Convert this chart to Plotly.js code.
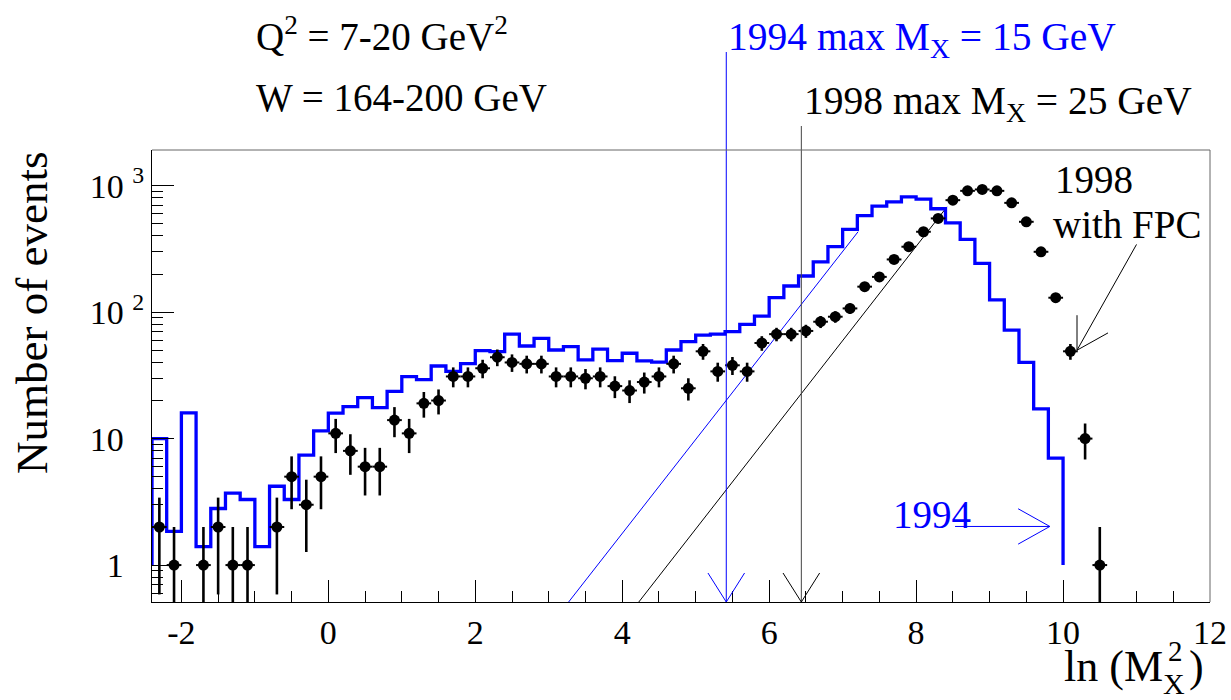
<!DOCTYPE html>
<html><head><meta charset="utf-8">
<script src="https://cdn.plot.ly/plotly-3.0.1.min.js"></script>
<style>html,body{margin:0;padding:0;background:#fff}</style>
</head><body><div id="chart" style="width:1231px;height:700px"></div>
<script>
// ---- DATA ----
// 1994 histogram (bin edges and contents, ln(M_X^2) bins of 0.2)
const hist1994Edges = [-2.4,-2.2,-2.0,-1.8,-1.6,-1.4,-1.2,-1.0,-0.8,-0.6,-0.4,-0.2,0.0,0.2,0.4,0.6,0.8,1.0,1.2,1.4,1.6,1.8,2.0,2.2,2.4,2.6,2.8,3.0,3.2,3.4,3.6,3.8,4.0,4.2,4.4,4.6,4.8,5.0,5.2,5.4,5.6,5.8,6.0,6.2,6.4,6.6,6.8,7.0,7.2,7.4,7.6,7.8,8.0,8.2,8.4,8.6,8.8,9.0,9.2,9.4,9.6,9.8,10.0];
const hist1994Counts = [10,1.85,16,1.4,2.8,3.7,3.3,1.4,4.2,3.3,7.4,11.5,15.9,17.9,21.1,17.6,23.6,30.9,29.3,37.5,34,39.2,49.7,48.7,67,54,62,50.2,53.3,41.9,50.9,41.3,47.3,41.1,40.3,50.2,58.4,65.9,67.1,70,80,93,130,161,193,250,329,451,580,690,745,816,782,657,508,376,243,125,72,40,17.2,7.0];
const hist1994Base = 1;
// 1998 data with FPC (bin centres, events)
const data1998X = [-2.3,-2.1,-1.7,-1.5,-1.3,-1.1,-0.7,-0.5,-0.3,-0.1,0.1,0.3,0.5,0.7,0.9,1.1,1.3,1.5,1.7,1.9,2.1,2.3,2.5,2.7,2.9,3.1,3.3,3.5,3.7,3.9,4.1,4.3,4.5,4.7,4.9,5.1,5.3,5.5,5.7,5.9,6.1,6.3,6.5,6.7,6.9,7.1,7.3,7.5,7.7,7.9,8.1,8.3,8.5,8.7,8.9,9.1,9.3,9.5,9.7,9.9,10.1,10.3,10.5];
const data1998Y = [2,1,1,2,1,1,2,5,3,5,11,8,6,6,14,11,19,20,31,31,36,44,40,39,39,31,31,30,31,26,24,28,31,39,25,49,34,38,34,57,67,67,71,84,92,107,159,190,261,329,432,551,768,910,933,910,731,518,300,130,49,10,1];
const binHalfWidth = 0.1;
// max M_X cuts (GeV) -> vertical lines at ln(M_X^2)
const maxMX1994 = 15, maxMX1998 = 25;
// acceptance lines (x, events)
const limit1994X = [3.27, 7.21], limit1994Y = [0.51, 432];
const limit1998X = [4.225, 8.42], limit1998Y = [0.51, 680];
// axis ticks
const xTickVals = [-2,0,2,4,6,8,10,12];
const xTickText = ['-2','0','2','4','6','8','10','12'];
const yTickVals = [1,10,100,1000];
const yTickText = ['1<span style="color:#fff"> <sup>0</sup></span>','10<span style="color:#fff"> <sup>0</sup></span>','10 <sup>2</sup>','10 <sup>3</sup>'];
const yMinorVals = [0.6,0.7,0.8,0.9,2,3,4,5,6,7,8,9,20,30,40,50,60,70,80,90,200,300,400,500,600,700,800,900];

// ---- GEOMETRY ----
const W = 1231, H = 700;
const M = {l:152, r:21, t:150, b:98};
const xRange = [-2.4, 12], yRange = [-0.292, 3.282];
const plotW = W - M.l - M.r, plotH = H - M.t - M.b;
const BLUE = '#0000ff';
const FONT = 'Liberation Serif, Times New Roman, serif';
function px2pX(px){ return (px - M.l)/plotW; }
function px2pY(py){ return (H - M.b - py)/plotH; }
function d2pX(x){ return (x - xRange[0])/(xRange[1]-xRange[0]); }
function d2pY(v){ return (Math.log10(v) - yRange[0])/(yRange[1]-yRange[0]); }
const dX = p => p/plotW, dY = p => p/plotH;

// ---- TRACES ----
const hx = [hist1994Edges[0]], hy = [hist1994Base];
for (let i = 0; i < hist1994Counts.length; i++) {
  hx.push(hist1994Edges[i], hist1994Edges[i+1]);
  hy.push(hist1994Counts[i], hist1994Counts[i]);
}
hx.push(hist1994Edges[hist1994Edges.length-1]); hy.push(hist1994Base);

const traces = [
  {x: limit1994X, y: limit1994Y, mode:'lines', line:{color:BLUE, width:1}, hoverinfo:'skip'},
  {x: limit1998X, y: limit1998Y, mode:'lines', line:{color:'#000', width:1}, hoverinfo:'skip'},
  {x: hx, y: hy, mode:'lines', line:{color:BLUE, width:3.3}, name:'1994'},
  {x: data1998X, y: data1998Y, mode:'markers', name:'1998 with FPC',
   marker:{color:'#000', size:11},
   error_y:{type:'data', array:data1998Y.map(Math.sqrt), color:'#000', thickness:2.6, width:0},
   error_x:{type:'constant', value:binHalfWidth, color:'#000', thickness:2, width:0}}
];

// ---- SHAPES (cut lines and arrows) ----
const shapes = [];
const lnM1994 = Math.log(maxMX1994*maxMX1994), lnM1998 = Math.log(maxMX1998*maxMX1998);
shapes.push({type:'line', xref:'x', yref:'paper', x0:lnM1994, x1:lnM1994, y0:0, y1:px2pY(52), line:{color:BLUE, width:1}});
shapes.push({type:'line', xref:'x', yref:'paper', x0:lnM1998, x1:lnM1998, y0:0, y1:px2pY(126), line:{color:'#444', width:1}});
function vHead(x, color){
  const xp = d2pX(x);
  return {type:'path', xref:'paper', yref:'paper', line:{color:color, width:1},
    path:`M${xp-dX(18.3)},${dY(29)} L${xp},0 L${xp+dX(18.3)},${dY(29)}`};
}
shapes.push(vHead(lnM1994, BLUE), vHead(lnM1998, '#000'));
// "1994" arrow
(function(){
  const y = d2pY(2.02), x0 = d2pX(8.53), x1 = d2pX(9.82);
  shapes.push({type:'line', xref:'paper', yref:'paper', x0:x0, x1:x1, y0:y, y1:y, line:{color:BLUE, width:1}});
  shapes.push({type:'path', xref:'paper', yref:'paper', line:{color:BLUE, width:1},
    path:`M${x1-dX(31.7)},${y+dY(17.7)} L${x1},${y} L${x1-dX(31.7)},${y-dY(17.7)}`});
})();
// "1998 with FPC" arrow
(function(){
  const tx = d2pX(10.19), ty = d2pY(50), sx = d2pX(11.0), sy = d2pY(343);
  shapes.push({type:'line', xref:'paper', yref:'paper', x0:sx, y0:sy, x1:tx, y1:ty, line:{color:'#000', width:1}});
  shapes.push({type:'path', xref:'paper', yref:'paper', line:{color:'#000', width:1},
    path:`M${tx},${ty+dY(35)} L${tx},${ty} L${tx+dX(31)},${ty+dY(17.3)}`});
})();
// top/right frame
shapes.push({type:'line', xref:'paper', yref:'paper', x0:0, x1:1, y0:1, y1:1, line:{color:'#666', width:1}});
shapes.push({type:'line', xref:'paper', yref:'paper', x0:1, x1:1, y0:0, y1:1, line:{color:'#666', width:1}});

// ---- TEXT ----
function txt(text, pxX, pyMid, size, color, anchor){
  return {text:text, xref:'paper', yref:'paper', x:px2pX(pxX), y:px2pY(pyMid),
    xanchor:anchor||'left', yanchor:'middle', showarrow:false, borderpad:0,
    font:{family:FONT, size:size, color:color}};
}
const annotations = [
  txt('Q<sup>2</sup> = 7-20 GeV<sup>2</sup>', 255, 34, 39, '#000'),
  txt('W = 164-200 GeV', 255, 97, 39, '#000'),
  txt('1994 max M<sub>X</sub> = 15 GeV', 727, 40, 39.5, BLUE),
  txt('1998 max M<sub>X</sub> = 25 GeV', 803, 104, 39.5, '#000'),
  txt('1998', 1054, 179, 39, '#000'),
  txt('with FPC', 1052, 224, 39, '#000'),
  txt('1994', 892, 514, 39, BLUE),
  {text:'Number of events', xref:'paper', yref:'paper', x:px2pX(32), y:px2pY(313), xanchor:'center', yanchor:'middle',
   textangle:-90, showarrow:false, font:{family:FONT, size:45, color:'#000'}},
  // x-axis title: ln (M_X^2) with stacked sub/superscript
  txt('ln (M', 1164, 666, 44, '#000', 'right'),
  txt('X', 1162, 683, 30, '#000'),
  txt('2', 1167, 651, 29, '#000'),
  txt(')', 1188, 666, 44, '#000')
];

const layout = {
  width:W, height:H, margin:{l:M.l, r:M.r, t:M.t, b:M.b, pad:0},
  paper_bgcolor:'#fff', plot_bgcolor:'#fff', showlegend:false,
  font:{family:FONT, color:'#000', size:33},
  xaxis:{range:xRange, tickmode:'array', tickvals:xTickVals, ticktext:xTickText,
    ticks:'inside', ticklen:22, tickwidth:1, tickcolor:'#000',
    showline:true, linecolor:'#000', linewidth:1, zeroline:false, showgrid:false,
    minor:{ticks:'inside', ticklen:11, tickwidth:1, tickcolor:'#000', dtick:0.5, tick0:0, showgrid:false},
    tickfont:{family:FONT, size:34, color:'#000'}, fixedrange:true},
  yaxis:{type:'log', range:yRange, tickmode:'array', tickvals:yTickVals, ticktext:yTickText,
    ticks:'inside', ticklen:22, tickwidth:1, tickcolor:'#000',
    showline:true, linecolor:'#000', linewidth:1, zeroline:false, showgrid:false,
    minor:{ticks:'inside', ticklen:11, tickwidth:1, tickcolor:'#000', tickmode:'array', tickvals:yMinorVals, showgrid:false},
    tickfont:{family:FONT, size:34, color:'#000'}, fixedrange:true},
  shapes:shapes, annotations:annotations
};
Plotly.newPlot('chart', traces, layout, {staticPlot:true, displayModeBar:false});
</script></body></html>
